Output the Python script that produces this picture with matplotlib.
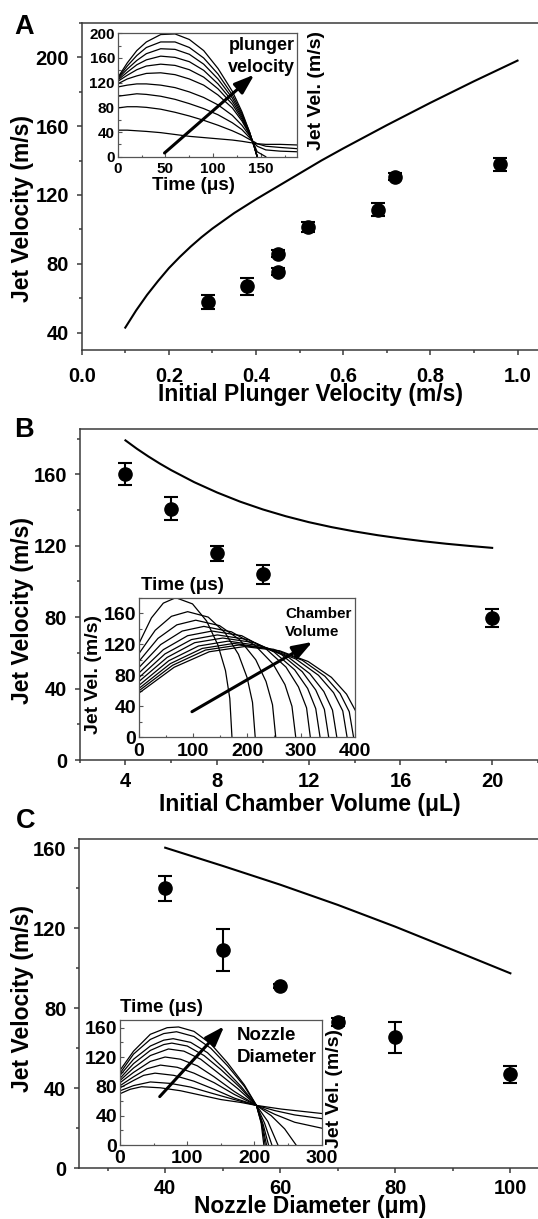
import matplotlib
matplotlib.use("Agg")
import matplotlib.pyplot as plt
from matplotlib.ticker import MultipleLocator
import numpy as np

plt.rcParams['font.family'] = ['Liberation Sans', 'DejaVu Sans']
plt.rcParams['font.weight'] = 'bold'
plt.rcParams['axes.labelweight'] = 'bold'

W, H = 538, 1219
nan = np.nan

# ---- panel A: plunger velocity ----
a_x = [0.29, 0.38, 0.45, 0.45, 0.52, 0.68, 0.72, 0.96]
a_y = [58, 67, 86, 75.5, 101.5, 111.5, 130.7, 137.7]
a_err = [4, 5, 2, 2, 3, 4, 2, 4]
a_model_x = [0.10, 0.125, 0.15, 0.175, 0.20, 0.225, 0.25, 0.275, 0.30, 0.35, 0.40,
             0.45, 0.50, 0.55, 0.60, 0.70, 0.80, 0.90, 1.00]
a_model_y = [43, 53, 62, 70, 77.5, 84, 90, 95.5, 100.5, 109.5, 117.5,
             125, 132.5, 140, 147, 160.5, 173.5, 186, 198]

a_ins_t = [0, 10, 20, 30, 45, 60, 75, 90, 105, 120, 130, 138, 143, 146, 155, 170, 188]
a_ins_v = [
    [128, 152, 172, 186, 198, 199, 190, 172, 143, 106, 73, 40, 15, 0, nan, nan, nan],
    [127, 147, 164, 177, 186, 186, 177, 160, 134, 100, 70, 40, 16, 0, nan, nan, nan],
    [126, 142, 156, 167, 175, 174, 166, 150, 126, 95, 67, 39, 16, 0, nan, nan, nan],
    [124, 137, 149, 157, 163, 161, 154, 140, 118, 90, 64, 38, 17, 0, nan, nan, nan],
    [122, 132, 141, 147, 150, 148, 141, 129, 110, 85, 61, 37, 17, 0, nan, nan, nan],
    [118, 126, 131, 135, 136, 133, 126, 116, 100, 79, 58, 36, 18, 0, nan, nan, nan],
    [113, 116, 118, 118, 116, 112, 105, 96, 84, 67, 51, 34, 19, 8, 0, nan, nan],
    [98, 100, 102, 101, 98, 93, 86, 78, 68, 55, 44, 31, 22, 17, 11, 9, 8],
    [79, 81, 81, 80, 77, 72, 66, 59, 51, 42, 35, 28, 24, 21, 17, 15, 13],
    [43, 43, 42, 41, 39, 36, 33, 31, 29, 27, 25, 23, 22, 21, 20, 20, 19],
]

# ---- panel B: chamber volume ----
b_x = [4, 6, 8, 10, 20]
b_y = [160.2, 140.8, 115.7, 104, 79.3]
b_err = [6, 6.5, 4, 5.4, 5]
b_model_x = [4, 4.5, 5, 5.5, 6, 7, 8, 9, 10, 11, 12, 13, 14, 15, 16, 17, 18, 19, 20]
b_model_y = [179, 174.3, 170, 166, 162.3, 155.6, 149.8, 144.7, 140.3, 136.5, 133.2,
             130.4, 128, 125.9, 124.1, 122.5, 121.1, 119.9, 118.8]

b_ins_t = [
    [0, 23, 45, 68, 99, 125, 146, 160, 168, 172],
    [0, 30, 60, 90, 128, 159, 184, 200, 210, 215],
    [0, 35, 70, 105, 149, 186, 216, 235, 247, 253],
    [0, 40, 80, 120, 171, 214, 248, 270, 283, 290],
    [0, 45, 90, 135, 190, 235, 272, 295, 310, 317],
    [0, 48, 97, 145, 202, 250, 288, 312, 327, 335],
    [0, 52, 103, 155, 214, 263, 302, 327, 343, 351],
    [0, 55, 110, 165, 225, 276, 316, 342, 358, 366],
    [0, 58, 117, 175, 238, 290, 332, 360, 377, 385],
    [0, 62, 123, 185, 249, 302, 344, 372, 389, 397],
    [0, 65, 130, 195, 260, 313, 356, 384, 400],
]
b_ins_v = [
    [121, 154, 173, 180, 172, 150, 119, 86, 50, 0],
    [108, 138, 156, 162, 155, 135, 107, 77, 45, 0],
    [98, 127.5, 145, 151, 144, 126, 100, 72, 42, 0],
    [90, 119.5, 137, 143, 136, 119, 94.5, 68, 40, 0],
    [83, 113, 131, 137, 131, 114, 90.5, 65, 38, 0],
    [77, 107.5, 126, 132, 126, 110, 87, 63, 37, 0],
    [72, 103, 122, 128, 122, 107, 84.6, 61, 36, 0],
    [67, 98.7, 117.7, 124, 118, 103.5, 82, 59, 35, 0],
    [63, 95, 114.6, 121, 115, 101, 80, 57.5, 34, 0],
    [60, 92.8, 112.5, 119, 113.5, 99.4, 78.7, 56.5, 33, 0],
    [57, 90.3, 110.3, 117, 111.6, 97.7, 77.3, 55.6, 35],
]

# ---- panel C: nozzle diameter ----
c_x = [40, 50, 60, 70, 80, 100]
c_y = [140, 109.2, 91.3, 73.3, 65.5, 47]
c_err = [6.2, 10.6, 1, 2, 7.7, 4.4]
c_model_x = [40, 50, 60, 70, 80, 90, 100]
c_model_y = [160.3, 151.2, 141.8, 131.7, 120.8, 109.2, 97.5]

c_ins_t = [
    [0, 20, 45, 70, 87, 110, 135, 160, 185, 203, 210, 214],
    [0, 20, 45, 65, 84, 110, 135, 160, 185, 203, 211, 216],
    [0, 20, 45, 65, 79, 105, 130, 155, 180, 203, 212, 218],
    [0, 20, 45, 65, 77, 100, 125, 150, 178, 203, 213, 221],
    [0, 20, 45, 72, 95, 120, 145, 175, 203, 215, 226],
    [0, 20, 45, 67, 90, 115, 140, 170, 203, 220, 235],
    [0, 20, 40, 60, 85, 110, 140, 170, 203, 225, 245, 262],
    [0, 20, 35, 52, 80, 110, 140, 170, 203, 230, 260, 300],
    [0, 20, 45, 75, 105, 135, 170, 203, 230, 260, 300],
    [0, 15, 32, 60, 90, 120, 150, 180, 203, 240, 270, 300],
]
c_ins_v = [
    [102, 128, 151, 160, 161, 155, 138, 112, 82, 54, 30, 0],
    [98, 124, 144, 152, 154.5, 148, 132, 108, 80, 54, 28, 0],
    [95, 117, 135, 143, 145, 140, 126, 104, 80, 54, 27, 0],
    [91, 111, 129, 137, 139, 135, 122, 103, 79, 54, 28, 0],
    [88, 105, 122, 131, 128, 117, 99, 77, 54, 30, 0],
    [85, 99, 114, 120, 117, 108, 93, 73, 54, 32, 0],
    [81, 93, 104, 109, 106, 98, 85, 69, 54, 40, 22, 0],
    [78, 88, 95, 98, 95, 87, 76, 64, 54, 42, 31, 23],
    [74, 81, 86, 84, 79, 71, 62, 54, 47, 41, 36],
    [70, 76, 79.5, 78, 74, 68, 62, 58, 54, 49, 46, 43],
]

fig = plt.figure(figsize=(W / 100, H / 100), dpi=100)

FRAME = '#3a3a3a'


def px_axes(l, t, r, b):
    return fig.add_axes([l / W, 1 - b / H, (r - l) / W, (b - t) / H])


def ftext(x, y, s, **kw):
    kw.setdefault('fontweight', 'bold')
    fig.text(x / W, 1 - y / H, s, **kw)


def main_axes(box, xlim, ylim, xmaj, xmin, ymaj, ymin, xpad):
    ax = px_axes(*box)
    ax.set_xlim(*xlim)
    ax.set_ylim(*ylim)
    ax.spines['right'].set_visible(False)
    for s in ['left', 'bottom', 'top']:
        ax.spines[s].set_linewidth(1.1)
        ax.spines[s].set_color(FRAME)
    ax.xaxis.set_major_locator(MultipleLocator(xmaj))
    ax.xaxis.set_minor_locator(MultipleLocator(xmin))
    ax.yaxis.set_major_locator(MultipleLocator(ymaj))
    ax.yaxis.set_minor_locator(MultipleLocator(ymin))
    ax.tick_params(which='both', direction='out', color=FRAME, width=1.1,
                   labelsize=14.5, top=False, right=False)
    ax.tick_params(which='major', length=3.5)
    ax.tick_params(which='minor', length=2.2)
    ax.tick_params(axis='x', pad=xpad)
    ax.tick_params(axis='y', pad=5.5)
    for lab in ax.get_xticklabels() + ax.get_yticklabels():
        lab.set_fontweight('bold')
    return ax


def inset_axes(box, xlim, ylim, xmaj, xmin, ymaj, ymin, size):
    ax = px_axes(*box)
    ax.set_zorder(5)
    ax.set_facecolor('white')
    ax.set_xlim(*xlim)
    ax.set_ylim(*ylim)
    for s in ax.spines.values():
        s.set_linewidth(0.9)
        s.set_color('#555555')
    ax.xaxis.set_major_locator(MultipleLocator(xmaj))
    ax.xaxis.set_minor_locator(MultipleLocator(xmin))
    ax.yaxis.set_major_locator(MultipleLocator(ymaj))
    ax.yaxis.set_minor_locator(MultipleLocator(ymin))
    ax.tick_params(which='both', direction='in', color='#555555', width=0.8,
                   labelsize=size)
    ax.tick_params(which='major', length=3)
    ax.tick_params(which='minor', length=1.8)
    ax.tick_params(axis='x', pad=3.8)
    ax.tick_params(axis='y', pad=2)
    for lab in ax.get_xticklabels() + ax.get_yticklabels():
        lab.set_fontweight('bold')
    return ax


def draw_main(ax, x, y, err, mx, my):
    ax.plot(mx, my, color='black', lw=1.5)
    ax.errorbar(x, y, yerr=err, fmt='o', color='black', ms=9.5,
                capsize=5, elinewidth=1.5, capthick=1.5)


def draw_arrow(ax, tail, tip):
    ax.annotate('', xy=tip, xytext=tail,
                arrowprops=dict(arrowstyle='-|>,head_length=0.8,head_width=0.28',
                                mutation_scale=15, lw=2.2, color='black',
                                shrinkA=0, shrinkB=0))


# ---------- A ----------
axA = main_axes((81.7, 22.7, 538, 350), (0, 1.047), (30, 220), 0.2, 0.1, 40, 20, 8.5)
axA.xaxis.set_major_formatter(matplotlib.ticker.FormatStrFormatter('%.1f'))
draw_main(axA, a_x, a_y, a_err, a_model_x, a_model_y)

insA = inset_axes((117.7, 32.7, 297.3, 156.7), (0, 188), (0, 201), 50, 25, 40, 20, 11)
for v in a_ins_v:
    insA.plot(a_ins_t, v, color='black', lw=0.9)
draw_arrow(insA, (49, 6), (143, 133))

# ---------- B ----------
axB = main_axes((79.6, 429.3, 538, 760), (2, 22), (0, 185.2), 4, 2, 40, 20, 5)
draw_main(axB, b_x, b_y, b_err, b_model_x, b_model_y)

insB = inset_axes((139, 597.7, 355.2, 737.3), (0, 400), (0, 180), 100, 50, 40, 20, 14)
for t, v in zip(b_ins_t, b_ins_v):
    insB.plot(t, v, color='black', lw=0.9)
draw_arrow(insB, (98, 33), (321, 123))

# ---------- C ----------
axC = main_axes((78.9, 839.3, 538, 1168.3), (25, 104.8), (0, 164.5), 20, 10, 40, 20, 4)
draw_main(axC, c_x, c_y, c_err, c_model_x, c_model_y)

insC = inset_axes((120.1, 1020, 321.6, 1145), (0, 300), (0, 170.5), 100, 50, 40, 20, 14)
for t, v in zip(c_ins_t, c_ins_v):
    insC.plot(t, v, color='black', lw=0.9)
draw_arrow(insC, (59, 66), (155, 162))

# ---------- texts ----------
for letter, (x, y) in zip('ABC', [(14.4, 34.3), (14.4, 436.7), (15.4, 828.3)]):
    ftext(x, y, letter, fontsize=19.5, ha='left', va='baseline')

for y in [208, 611, 998]:
    ftext(23, y, 'Jet Velocity (m/s)', fontsize=16.5, rotation=90,
          ha='center', va='center')

ftext(310, 395, 'Initial Plunger Velocity (m/s)', fontsize=16.5, ha='center', va='center')
ftext(310, 805, 'Initial Chamber Volume (\u03bcL)', fontsize=16.5, ha='center', va='center')
ftext(310, 1207, 'Nozzle Diameter (\u03bcm)', fontsize=16.5, ha='center', va='center')

for x, y in [(193.8, 185.5), (182.7, 586), (161, 1008)]:
    ftext(x, y, 'Time (\u03bcs)', fontsize=13.5, ha='center', va='center', zorder=10)
for x, y in [(316.6, 90), (93.5, 674), (334.6, 1088)]:
    ftext(x, y, 'Jet Vel. (m/s)', fontsize=14, rotation=90, ha='center',
          va='center', zorder=10)

ftext(295, 45, 'plunger', fontsize=13, ha='right', va='center', zorder=10)
ftext(295, 67, 'velocity', fontsize=13, ha='right', va='center', zorder=10)
ftext(285, 614.5, 'Chamber', fontsize=11, ha='left', va='center', zorder=10)
ftext(285, 632.5, 'Volume', fontsize=11, ha='left', va='center', zorder=10)
ftext(236.8, 1035, 'Nozzle', fontsize=13.5, ha='left', va='center', zorder=10)
ftext(236.8, 1057.5, 'Diameter', fontsize=13.5, ha='left', va='center', zorder=10)

fig.savefig('out.png', dpi=100)
